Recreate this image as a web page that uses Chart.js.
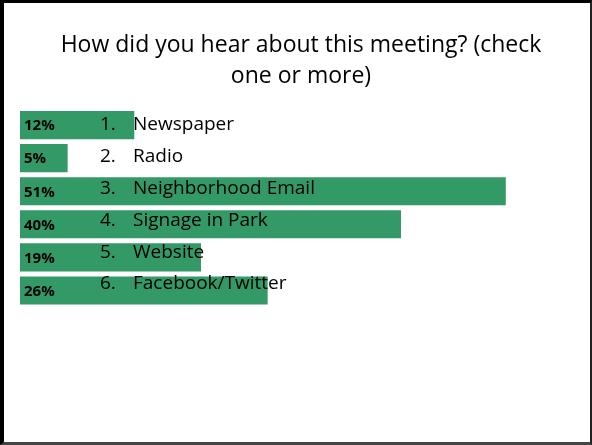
<!DOCTYPE html>
<html>
<head>
<meta charset="utf-8">
<script src="https://cdn.jsdelivr.net/npm/chart.js@4.4.1/dist/chart.umd.min.js"></script>
<style>
  html, body { margin: 0; padding: 0; background: #fff; }
  #wrap { position: relative; width: 592px; height: 445px; }
  #frame {
    position: absolute; left: 0; top: 0; width: 592px; height: 445px;
    box-sizing: border-box; pointer-events: none;
    border-left: 4px solid #000; border-top: 3px solid #000;
    border-right: 2px solid #222; border-bottom: 3px solid #444;
  }
</style>
</head>
<body>
<div id="wrap">
  <canvas id="chart" width="592" height="445"></canvas>
  <div id="frame"></div>
</div>
<script>
// survey answers, in the order they were listed
const categories = ["Newspaper", "Radio", "Neighborhood Email", "Signage in Park", "Website", "Facebook/Twitter"];
const percents = [12, 5, 51, 40, 19, 26];
const titleLines = ["How did you hear about this meeting? (check", "one or more)"];

const barColor = "rgb(51,153,102)";
const textFont = "'Open Sans', 'Noto Sans', sans-serif";

// draws the "12%" labels inside the bars and the numbered list on top
const listLabels = {
  id: "listLabels",
  afterDatasetsDraw(chart) {
    const ctx = chart.ctx;
    const meta = chart.getDatasetMeta(0);
    ctx.save();
    meta.data.forEach((bar, i) => {
      const y = bar.y;
      // percent label
      ctx.font = "bold 15px " + textFont;
      ctx.fillStyle = "#000";
      ctx.textAlign = "left";
      ctx.textBaseline = "middle";
      ctx.fillText(percents[i] + "%", chart.chartArea.left + 4, y + 1);
      // numbered item, the list lines run slightly tighter than the bars
      const base = y + 5 - i * 1.2;
      ctx.font = "19px " + textFont;
      ctx.textBaseline = "alphabetic";
      ctx.fillText((i + 1) + ".", chart.chartArea.left + 80, base);
      ctx.fillText(categories[i], chart.chartArea.left + 113, base);
    });
    ctx.restore();
  }
};

new Chart(document.getElementById("chart"), {
  type: "bar",
  data: {
    labels: categories,
    datasets: [{
      data: percents,
      backgroundColor: barColor,
      borderWidth: 0,
      barPercentage: 0.85,
      categoryPercentage: 1.0
    }]
  },
  options: {
    indexAxis: "y",
    responsive: false,
    animation: false,
    layout: { padding: { left: 20, right: 10, top: 0, bottom: 138 } },
    scales: {
      x: { display: false, min: 0, max: 59, grid: { display: false } },
      y: { display: false, grid: { display: false } }
    },
    plugins: {
      legend: { display: false },
      tooltip: { enabled: false },
      title: {
        display: true,
        text: titleLines,
        color: "#000",
        font: { family: textFont, size: 23, weight: "normal", lineHeight: 1.36 },
        padding: { top: 30, bottom: 16 }
      }
    }
  },
  plugins: [listLabels]
});
</script>
</body>
</html>
